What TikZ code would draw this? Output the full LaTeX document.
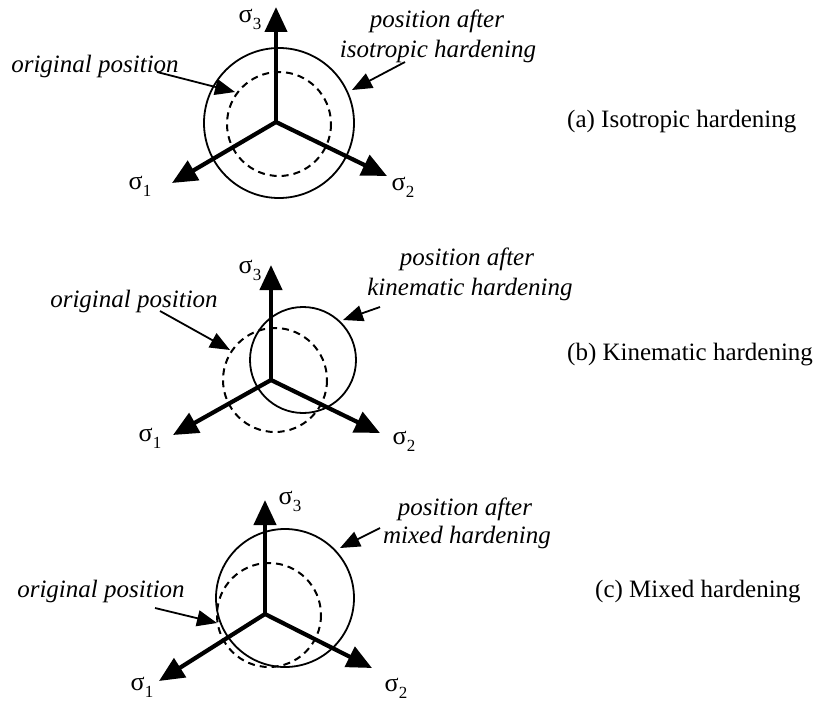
\documentclass[tikz,border=0pt]{standalone}
\usepackage{fontspec}
\setmainfont{Liberation Serif}
\usetikzlibrary{arrows.meta}

\newcommand{\sigmalab}[1]{σ\raisebox{-7pt}{\fontsize{17}{17}\selectfont #1}}

\begin{document}
\begin{tikzpicture}[x=1pt,y=-1pt,
  axis/.style={line width=4.2pt, line cap=butt, -{Triangle[length=25pt,width=22pt]}},
  leader/.style={line width=1.8pt, -{Triangle[length=20pt,width=16pt]}},
  yieldnew/.style={line width=1.8pt},
  yieldold/.style={line width=2pt, dash pattern=on 7pt off 5pt},
  sig/.style={font=\fontsize{26}{30}\selectfont, inner sep=0pt, anchor=center},
  note/.style={font=\fontsize{25}{30}\selectfont\itshape, inner sep=0pt, anchor=base},
  captext/.style={font=\fontsize{25}{30}\selectfont, inner sep=0pt, anchor=base west}]
\useasboundingbox (0,0) rectangle (818,701);

% ---------- (a) isotropic hardening ----------
\coordinate (oa) at (276,122);
\coordinate (a3) at (276,7);
\coordinate (a1) at (172,183);
\coordinate (a2) at (387,176);
\draw[yieldnew] (279,123) circle[radius=75];
\draw[yieldold] (279,124) circle[radius=52];
\draw[axis] (oa) -- (a3);
\draw[axis] (oa) -- (a1);
\draw[axis] (oa) -- (a2);
\node[sig] (sa3) at (250,19) {\sigmalab{3}};
\node[sig] (sa1) at (140,186) {\sigmalab{1}};
\node[sig] (sa2) at (403,187) {\sigmalab{2}};
\node[note] (na1) at (95,72) {original position};
\node[note] (na2) at (437,28) {position after};
\node[note] (na3) at (438,57) {isotropic hardening};
\coordinate (la1s) at (157,72);
\coordinate (la1e) at (235,92);
\coordinate (la2s) at (405,62);
\coordinate (la2e) at (352,90);
\draw[leader] (la1s) -- (la1e);
\draw[leader] (la2s) -- (la2e);
\node[captext] (ca) at (567,127) {(a) Isotropic hardening};

% ---------- (b) kinematic hardening ----------
\coordinate (ob) at (271,380);
\coordinate (b3) at (271,265);
\coordinate (b1) at (173,435);
\coordinate (b2) at (380,433);
\draw[yieldold] (275,380) circle[radius=52];
\draw[yieldnew] (303,360) circle[radius=53];
\draw[axis] (ob) -- (b3);
\draw[axis] (ob) -- (b1);
\draw[axis] (ob) -- (b2);
\node[sig] (sb3) at (250,270) {\sigmalab{3}};
\node[sig] (sb1) at (150,438) {\sigmalab{1}};
\node[sig] (sb2) at (404,441) {\sigmalab{2}};
\node[note] (nb1) at (134,307) {original position};
\node[note] (nb2) at (467,265) {position after};
\node[note] (nb3) at (470,295) {kinematic hardening};
\coordinate (lb1s) at (160,311);
\coordinate (lb1e) at (230,350);
\coordinate (lb2s) at (380,307);
\coordinate (lb2e) at (343,320);
\draw[leader] (lb1s) -- (lb1e);
\draw[leader] (lb2s) -- (lb2e);
\node[captext] (cb) at (567,360) {(b) Kinematic hardening};

% ---------- (c) mixed hardening ----------
\coordinate (oc) at (265,614);
\coordinate (c3) at (265,500);
\coordinate (c1) at (159,681);
\coordinate (c2) at (372,668);
\draw[yieldold] (269,615) circle[radius=52];
\draw[yieldnew] (285,598) circle[radius=69];
\draw[axis] (oc) -- (c3);
\draw[axis] (oc) -- (c1);
\draw[axis] (oc) -- (c2);
\node[sig] (sc3) at (290,501) {\sigmalab{3}};
\node[sig] (sc1) at (142,687) {\sigmalab{1}};
\node[sig] (sc2) at (396,688) {\sigmalab{2}};
\node[note] (nc1) at (101,597) {original position};
\node[note] (nc2) at (465,515) {position after};
\node[note] (nc3) at (467,543) {mixed hardening};
\coordinate (lc1s) at (155,608);
\coordinate (lc1e) at (217,623);
\coordinate (lc2s) at (380,528);
\coordinate (lc2e) at (340,548);
\draw[leader] (lc1s) -- (lc1e);
\draw[leader] (lc2s) -- (lc2e);
\node[captext] (cc) at (595,597) {(c) Mixed hardening};
\end{tikzpicture}
\end{document}
